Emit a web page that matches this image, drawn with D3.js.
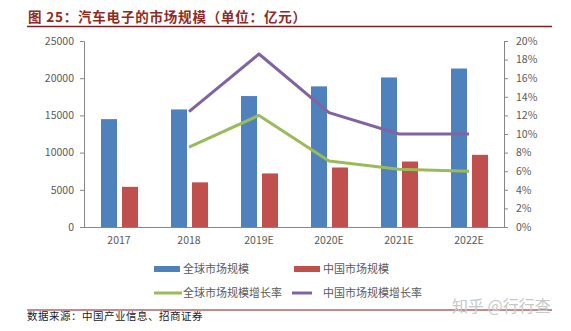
<!DOCTYPE html>
<html>
<head>
<meta charset="utf-8">
<script src="https://cdn.jsdelivr.net/npm/d3@7/dist/d3.min.js"></script>
<style>
  html, body { margin: 0; padding: 0; background: #fff; }
  svg { display: block; }
</style>
</head>
<body>
<svg id="chart" width="571" height="331"></svg>
<script>
// Automotive electronics market size (100M CNY) and growth rates
const categories = ["2017", "2018", "2019E", "2020E", "2021E", "2022E"];
const globalSize = [14500, 15800, 17600, 18900, 20100, 21300];
const chinaSize = [5400, 6000, 7200, 8000, 8800, 9700];
const globalGrowth = [null, 8.6, 12.0, 7.1, 6.2, 6.0];
const chinaGrowth = [null, 12.4, 18.6, 12.3, 10.0, 10.0];
const leftTicks = [0, 5000, 10000, 15000, 20000, 25000];
const rightTicks = [0, 2, 4, 6, 8, 10, 12, 14, 16, 18, 20];
const seriesNames = ["全球市场规模", "中国市场规模", "全球市场规模增长率", "中国市场规模增长率"];

const colors = { global: "#4F81BD", china: "#C0504D", gGrowth: "#9BBB59", cGrowth: "#8064A2" };
const axisColor = "#868686";
const textColor = "#595959";
const titleColor = "#8E2B22";

const svg = d3.select("#chart");
const font = "'Noto Sans CJK SC', 'Noto Sans', sans-serif";

const plot = { left: 84, right: 504, top: 41, bottom: 227 };

const x = d3.scaleBand().domain(categories).range([plot.left, plot.right]);
const yL = d3.scaleLinear().domain([0, 25000]).range([plot.bottom, plot.top]);
const yR = d3.scaleLinear().domain([0, 20]).range([plot.bottom, plot.top]);

// Title
svg.append("text")
  .attr("x", 28).attr("y", 22)
  .attr("fill", titleColor)
  .attr("font-family", font)
  .attr("font-weight", "bold")
  .attr("font-size", 13.5)
  .attr("letter-spacing", 0.8)
  .text("图 25：汽车电子的市场规模（单位：亿元）");
svg.append("line")
  .attr("x1", 27).attr("x2", 552).attr("y1", 26.5).attr("y2", 26.5)
  .attr("stroke", "#7A1F24").attr("stroke-width", 1.5);

// Bars
const barW = 16;
const cx = d => x(d) + x.bandwidth() / 2;
svg.append("g").selectAll("rect").data(categories).join("rect")
  .attr("x", (d) => cx(d) - 18)
  .attr("y", (d, i) => yL(globalSize[i]))
  .attr("width", barW)
  .attr("height", (d, i) => plot.bottom - yL(globalSize[i]))
  .attr("fill", colors.global);
svg.append("g").selectAll("rect").data(categories).join("rect")
  .attr("x", (d) => cx(d) + 3)
  .attr("y", (d, i) => yL(chinaSize[i]))
  .attr("width", barW)
  .attr("height", (d, i) => plot.bottom - yL(chinaSize[i]))
  .attr("fill", colors.china);

// Growth lines
const line = d3.line()
  .defined(d => d.v != null)
  .x(d => cx(d.c))
  .y(d => yR(d.v));
svg.append("path")
  .datum(categories.map((c, i) => ({ c, v: globalGrowth[i] })))
  .attr("d", line).attr("fill", "none")
  .attr("stroke", colors.gGrowth).attr("stroke-width", 3)
  .attr("stroke-linejoin", "round");
svg.append("path")
  .datum(categories.map((c, i) => ({ c, v: chinaGrowth[i] })))
  .attr("d", line).attr("fill", "none")
  .attr("stroke", colors.cGrowth).attr("stroke-width", 3)
  .attr("stroke-linejoin", "round");

// Axes
const leftAxis = svg.append("g")
  .attr("transform", `translate(${plot.left},0)`)
  .call(d3.axisLeft(yL).tickValues(leftTicks).tickSize(4).tickPadding(6).tickFormat(d3.format("d")));
const rightAxis = svg.append("g")
  .attr("transform", `translate(${plot.right},0)`)
  .call(d3.axisRight(yR).tickValues(rightTicks).tickSize(4).tickPadding(8).tickFormat(d => d + "%"));
const bottomAxis = svg.append("g")
  .attr("transform", `translate(0,${plot.bottom})`)
  .call(d3.axisBottom(x).tickSize(0).tickPadding(10));

[leftAxis, rightAxis, bottomAxis].forEach(g => {
  g.select(".domain").attr("stroke", axisColor);
  g.selectAll(".tick line").attr("stroke", axisColor);
  g.selectAll("text").attr("fill", textColor)
    .attr("font-family", font).attr("font-size", 10.5);
});
bottomAxis.select(".domain").attr("d", `M${plot.left},0.5H${plot.right}`);

// Legend
const legend = [
  { name: seriesNames[0], color: colors.global, type: "rect", x: 154, y: 269 },
  { name: seriesNames[1], color: colors.china, type: "rect", x: 294, y: 269 },
  { name: seriesNames[2], color: colors.gGrowth, type: "line", x: 154, y: 293 },
  { name: seriesNames[3], color: colors.cGrowth, type: "line", x: 292, y: 293 }
];
const lg = svg.append("g").selectAll("g").data(legend).join("g")
  .attr("transform", d => `translate(${d.x},${d.y})`);
lg.filter(d => d.type === "rect").append("rect")
  .attr("x", 0).attr("y", -3).attr("width", 26).attr("height", 6)
  .attr("fill", d => d.color);
lg.filter(d => d.type === "line").append("line")
  .attr("x1", 0).attr("x2", d => d.x === 154 ? 28 : 20).attr("y1", 0).attr("y2", 0)
  .attr("stroke", d => d.color).attr("stroke-width", 3);
lg.append("text")
  .attr("x", d => d.type === "line" && d.x !== 154 ? 31 : 29)
  .attr("y", 0).attr("dy", "0.35em")
  .attr("fill", textColor).attr("font-family", font).attr("font-size", 11)
  .text(d => d.name);

// Footer
svg.append("line")
  .attr("x1", 27).attr("x2", 552).attr("y1", 310).attr("y2", 310)
  .attr("stroke", "#7A1F24").attr("stroke-width", 1.2);
svg.append("text")
  .attr("x", 452).attr("y", 312)
  .attr("fill", "#C8C8C8").attr("font-family", font).attr("font-size", 16)
  .text("知乎 @行行查");
svg.append("text")
  .attr("x", 27).attr("y", 320)
  .attr("fill", "#222").attr("font-family", font).attr("font-size", 10.5)
  .attr("letter-spacing", 0.5)
  .text("数据来源：中国产业信息、招商证券");
</script>
</body>
</html>
